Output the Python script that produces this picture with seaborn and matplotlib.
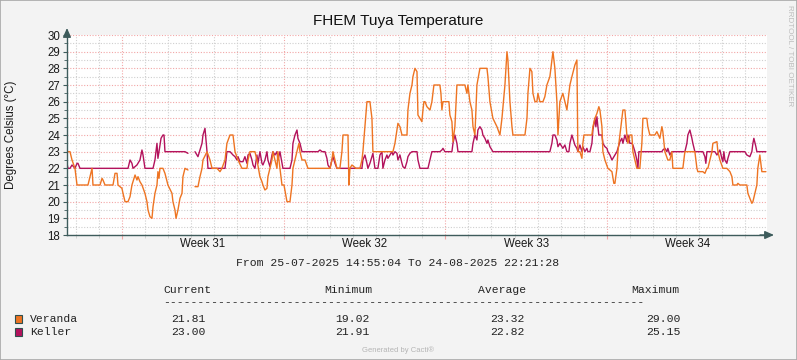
import numpy as np
import pandas as pd
import matplotlib
matplotlib.use("Agg")
import matplotlib.pyplot as plt
import matplotlib.dates as mdates
import seaborn as sns
from matplotlib.patches import Rectangle
from matplotlib import transforms

# ---------------- data ----------------
START = "2025-07-25 14:55:04"
END = "2025-08-24 22:21:28"
TITLE = "FHEM Tuya Temperature"
Y_LABEL = "Degrees Celsius (°C)"
series_names = ["Veranda", "Keller"]
series_colors = {"Veranda": "#EE7422", "Keller": "#B3125C"}

veranda_hours = [0, 3.1, 5.2, 8.3, 10.4, 21.8, 23.9, 26.0, 27.0, 34.3, 36.4, 37.4, 39.5, 47.8, 49.9, 52.0, 53.0,
                 57.1, 58.2, 60.3, 63.4, 65.5, 67.5, 70.7, 72.7, 73.8, 75.8, 77.9, 81.0, 83.1, 84.2, 86.2, 88.3,
                 89.4, 91.4, 93.5, 94.5, 95.6, 96.6, 99.7, 101.8, 104.9, 109.1, 110.1, 112.2, 113.3, 115.3, 117.4,
                 119.5, 120.5, 122.6, 125.7, 129.9, 133.0, 136.1, 138.2, 140.3, 141.3, 145.5, 148.6, 150.7, 155.9,
                 159.0, 161.0, 164.2, 166.2, 169.4, 172.5, 174.6, 177.7, 181.8, 187.0, 188.1, 190.1, 195.3, 197.4,
                 200.5, 202.6, 203.6, 205.7, 207.8, 208.8, 210.9, 213.0, 214.0, 216.1, 218.2, 219.2, 221.3, 223.4,
                 225.5, 228.6, 231.7, 233.8, 234.8, 239.0, 241.0, 242.1, 244.2, 247.3, 250.4, 273.3, 275.3, 276.4,
                 278.5, 280.5, 283.6, 285.7, 286.8, 292.0, 293.0, 294.0, 296.1, 298.2, 300.3, 304.4, 306.5, 307.5,
                 309.6, 311.7, 314.8, 316.9, 317.9, 338.7, 340.8, 342.9, 343.9, 346.0, 348.1, 353.3, 354.3, 356.4,
                 358.5, 359.5, 361.6, 363.7, 364.7, 366.8, 368.8, 369.9, 370.9, 372.0, 374.0, 377.2, 379.2, 381.3,
                 387.5, 388.6, 389.6, 390.7, 396.9, 397.9, 400.0, 401.1, 403.1, 405.2, 411.4, 413.5, 415.6, 416.6,
                 418.7, 420.8, 421.9, 423.9, 426.0, 429.1, 436.4, 437.4, 439.5, 442.6, 446.8, 449.9, 452.0, 455.1,
                 457.2, 458.2, 460.3, 462.4, 463.4, 475.9, 478.0, 479.0, 481.1, 483.1, 484.2, 486.3, 488.3, 489.4,
                 491.4, 494.6, 496.6, 498.7, 501.8, 503.9, 505.0, 507.0, 509.1, 510.2, 512.2, 515.3, 517.4, 519.5,
                 522.6, 524.7, 527.8, 529.9, 530.9, 533.0, 535.1, 536.1, 537.2, 545.5, 546.5, 548.6, 550.7, 552.7,
                 553.8, 555.9, 556.9, 559.0, 562.1, 566.3, 568.3, 569.4, 571.5, 572.5, 574.6, 576.6, 577.7, 579.8,
                 581.8, 582.9, 585.0, 587.0, 588.1, 590.2, 592.2, 595.3, 597.4, 598.5, 602.6, 603.6, 605.7, 610.9,
                 613.0, 616.1, 618.2, 619.2, 621.3, 624.4, 626.5, 628.6, 629.6, 640.0, 642.1, 652.5, 654.6, 655.6,
                 660.8, 662.9, 665.0, 666.0, 670.2, 671.2, 675.4, 676.4, 678.5, 681.6, 685.7, 688.9, 691.0, 692.0,
                 696.1, 697.2, 699.2, 706.5, 707.6, 709.6, 711.7, 712.8, 714.8, 716.9, 717.9, 720.0, 722.1, 726.3]
veranda_temp = [23, 23, 22.5, 22, 21, 21, 21.5, 22, 21, 21, 21.4, 21.3, 21, 21, 21.7, 21.7, 21,
                20.8, 20.5, 20, 20, 20.3, 21, 21.6, 21.3, 21.5, 21.2, 21, 20.5, 20, 19.5, 19.1, 19,
                19.7, 20.5, 21, 21.8, 21.4, 22, 22, 21.7, 21, 20.5, 20, 19.5, 19, 19.5, 20.2,
                20.5, 21.5, 22, 21.9, np.nan, 20.9, 20.9, 21.5, 22, 22.5, 23, 22.5, 22, 22,
                21.8, 22, 22.5, 23.5, 24, 24, 23, 22.5, 22, 22, 22.5, 23, 23, 22.5,
                21.5, 21.2, 21, 20.7, 20.8, 21.5, 22, 22.5, 23, 22.5, 22, 23, 22, 21,
                21, 20, 20, 21, 22, 23, 23.5, 23, 22.5, 22.5, 22, 22, 22.5, 23,
                22.5, 22, 22, 23, 24, 24, 21, 22, 22.2, 22.1, 22, 22, 22.5, 23,
                24.5, 26, 26, 25, 23, 23, 23.5, 24.3, 24.7, 24.5, 24, 24, 25.5, 26.5,
                27, 27.5, 28, 27.8, 25.2, 25, 24.8, 25.5, 26, 26, 25.7, 25.5, 26, 27,
                27, 26.5, 25.5, 26, 26, 25.2, 24.8, 23.6, 24.5, 27, 27, 27, 26.5, 27,
                26, 25.5, 24.5, 24, 27, 28, 28, 27.5, 26, 25, 24.5, 24, 25, 27,
                29, 28.5, 26, 24.5, 24, 24, 25, 26.5, 28, 27.8, 26.5, 26, 26, 26.5,
                26, 26, 26.3, 27, 27.5, 28.5, 29, 28, 26, 24, 26, 26.5, 26, 25.5,
                27, 27.5, 28.2, 28.5, 23, 23, 22.6, 23.5, 24, 24, 24.5, 25, 25.3, 25.7,
                25.5, 24.5, 23, 22.5, 22, 21.8, 21.1, 21.1, 22, 23, 24, 25, 25.5, 25.5,
                24, 23.5, 24, 24, 23, 22.5, 22, 22, 23.5, 25, 25, 24.5, 24, 24,
                24.2, 23.8, 24.5, 24.2, 23, 22.5, 22.5, 23, 22, 22, 23, 23, 22, 21.8,
                21.8, 21.7, 22, 22, 23, 23.5, 23.6, 23, 22.5, 22, 22, 21.8, 21.5, 21,
                21, 21.1, 21, 21, 20.5, 20.2, 19.9, 20, 20.5, 21, 22, 22.8, 21.8, 21.8]

keller_hours = [0, 1.0, 3.1, 5.2, 8.3, 10.4, 11.4, 13.5, 63.4, 65.5, 67.5, 68.6, 72.7, 75.8, 77.9, 79.0, 81.0,
                89.4, 91.4, 93.5, 94.5, 95.6, 97.7, 99.7, 100.8, 101.8, 120.5, 122.6, 125.7, 129.9, 133.0, 136.1,
                138.2, 140.3, 141.3, 143.4, 145.5, 146.5, 164.2, 166.2, 169.4, 172.5, 174.6, 176.6, 177.7, 179.7,
                182.9, 184.9, 187.0, 188.1, 190.1, 192.2, 193.3, 195.3, 197.4, 198.4, 200.5, 202.6, 203.6, 205.7,
                207.8, 208.8, 210.9, 213.0, 214.0, 216.1, 218.2, 219.2, 221.3, 223.4, 224.4, 231.7, 233.8, 234.8,
                236.9, 239.0, 240.0, 242.1, 244.2, 260.8, 262.9, 265.0, 268.1, 270.1, 271.2, 273.3, 275.3, 276.4,
                278.5, 280.5, 306.5, 307.5, 309.6, 311.7, 312.7, 314.8, 317.9, 320.0, 323.1, 325.2, 327.3, 328.3,
                330.4, 332.5, 333.5, 335.6, 337.7, 338.7, 340.8, 342.9, 343.9, 346.0, 348.1, 349.1, 351.2, 353.3,
                354.3, 356.4, 358.5, 363.7, 364.7, 366.8, 375.1, 377.2, 379.2, 387.5, 389.6, 390.7, 392.7, 400.0,
                401.1, 403.1, 405.2, 406.3, 420.8, 421.9, 423.9, 426.0, 427.0, 429.1, 431.2, 432.2, 434.3, 436.4,
                437.4, 439.5, 441.6, 442.6, 501.8, 503.9, 505.0, 507.0, 509.1, 510.2, 512.2, 515.3, 517.4, 519.5,
                521.6, 522.6, 524.7, 525.7, 527.8, 529.9, 530.9, 533.0, 535.1, 536.1, 538.2, 540.3, 541.3, 543.4,
                545.5, 546.5, 548.6, 549.6, 550.7, 551.7, 552.7, 555.9, 556.9, 559.0, 561.1, 562.1, 564.2, 566.3,
                567.3, 569.4, 571.5, 572.5, 574.6, 576.6, 577.7, 579.8, 581.8, 582.9, 585.0, 587.0, 588.1, 590.2,
                592.2, 593.3, 594.3, 618.2, 619.2, 621.3, 623.4, 624.4, 626.5, 628.6, 642.1, 644.2, 645.2, 647.3,
                649.4, 650.4, 652.5, 660.8, 662.9, 663.9, 665.0, 673.3, 675.4, 678.5, 680.5, 681.6, 682.6, 683.7,
                685.7, 686.8, 688.9, 704.4, 706.5, 709.6, 711.7, 712.8, 713.8, 715.9, 716.9, 726.3]
keller_temp = [22.3, 22, 22, 22.2, 22, 22.3, 22.3, 22, 22, 22.5, 22.3, 22, 22.2, 22.5, 23.1, 22.8, 22,
               22, 22.5, 23.5, 22.6, 23, 23.8, 24, 24, 23, 23, 23, 22.9, np.nan, 23, 22.7,
               23.1, 23.5, 24, 24.4, 23, 22, 22, 23, 23, 22.8, 22.7, 22.5, 22.7, 22.4,
               22.4, 22.7, 22.3, 22.8, 22.9, 22.5, 22.2, 22, 22.8, 22.3, 23, 22.3, 22.2, 22.5,
               23, 22.5, 22.1, 22.8, 23, 22.8, 23, 22.5, 23, 22.3, 22, 22, 22.5, 23.5,
               24, 24.3, 23.8, 23.5, 23, 23, 23.1, 23, 23, 22.6, 22.2, 22, 22.5, 22.7,
               22.3, 22, 22, 22.5, 22.8, 22.3, 22, 22.3, 22.9, 22, 22, 22.8, 23, 22,
               22.5, 22.8, 22.6, 22.8, 23, 22.8, 23, 22.9, 22.5, 22.8, 22.3, 22.1, 22, 22.4,
               22.7, 22.9, 23, 23, 22.5, 22, 22, 22.5, 23, 23, 23.1, 23.2, 23, 23,
               23.5, 24, 23.5, 23, 23, 23.5, 24, 23.7, 24.3, 24.5, 24.3, 24, 23.8, 23.5,
               23.7, 23.3, 23.1, 23, 23, 23.5, 24, 24, 23.7, 23.3, 23.5, 23.2, 23.4, 23,
               23, 23.5, 24, 23.8, 23.4, 23.2, 23, 23.4, 23, 23.3, 23, 23.2, 23, 23,
               23.5, 24.3, 25, 24.5, 25.1, 24.5, 24, 24, 23.5, 23.3, 23.2, 23, 22.8, 22.5,
               22.6, 22.8, 23, 23.2, 23.6, 23.8, 23.5, 24, 23.6, 24, 23.5, 23.5, 23.4, 23,
               22.5, 22, 23, 23, 23.1, 23.2, 23, 23.2, 22.8, 23, 23, 23.5, 24, 24.3,
               23.8, 23.5, 23, 23, 22.7, 22.3, 23, 23, 22.8, 23.1, 22.6, 22.4, 23, 22.5,
               22.3, 22.6, 23, 23, 22.8, 22.7, 23, 23.5, 23.8, 23.3, 23, 23]

stat_headers = ["Current", "Minimum", "Average", "Maximum"]
veranda_stats = ["21.81", "19.02", "23.32", "29.00"]
keller_stats = ["23.00", "21.91", "22.82", "25.15"]
period_text = "From 25-07-2025 14:55:04 To 24-08-2025 22:21:28"

# ---------------- frame ----------------
start = pd.Timestamp(START)
end = pd.Timestamp(END)


def build(name, hours, temps):
    d = pd.DataFrame({"hours": hours, "temp": temps})
    d["seg"] = d["temp"].isna().cumsum()
    d = d.dropna()
    d["time"] = start + pd.to_timedelta(d["hours"], unit="h")
    d["series"] = name
    return d


df = pd.concat([build("Keller", keller_hours, keller_temp),
                build("Veranda", veranda_hours, veranda_temp)], ignore_index=True)
df["unit"] = df["series"] + df["seg"].astype(str)

# ---------------- style ----------------
sns.set_theme(style="white")
plt.rcParams["font.family"] = ["Liberation Sans", "DejaVu Sans"]
W, H = 797, 360
BG = "#F3F3F3"
SPINE = "#3E5C5C"
MAJOR_GRID = "#F2A6A6"
MINOR_GRID = "#CFCFCF"

fig = plt.figure(figsize=(W / 100, H / 100), dpi=100, facecolor=BG)
ax = fig.add_axes([67 / W, 1 - 235 / H, 700 / W, 200 / H])
ax.set_facecolor("white")

sns.lineplot(data=df, x="time", y="temp", hue="series", units="unit", estimator=None,
             hue_order=["Keller", "Veranda"], palette=series_colors, linewidth=1.0,
             sort=False, legend=False, ax=ax)

ax.set_xlim(start, end)
ax.set_ylim(18, 30)
ax.set_xlabel("")
ax.set_ylabel("")

ax.yaxis.set_major_locator(matplotlib.ticker.MultipleLocator(1))
ax.yaxis.set_minor_locator(matplotlib.ticker.MultipleLocator(0.5))
ax.yaxis.set_major_formatter(matplotlib.ticker.FormatStrFormatter("%d"))
ax.xaxis.set_major_locator(mdates.WeekdayLocator(byweekday=mdates.MO))
ax.xaxis.set_minor_locator(mdates.DayLocator())
ax.xaxis.set_major_formatter(matplotlib.ticker.NullFormatter())

ax.grid(which="major", color=MAJOR_GRID, linestyle=(0, (1, 1.5)), linewidth=0.8)
ax.grid(which="minor", color=MINOR_GRID, linestyle=(0, (1, 1.5)), linewidth=0.8)
ax.set_axisbelow(True)

for s in ["top", "right"]:
    ax.spines[s].set_visible(False)
for s in ["left", "bottom"]:
    ax.spines[s].set_color(SPINE)
    ax.spines[s].set_linewidth(1.0)

ax.tick_params(axis="y", which="major", length=3, width=0.8, color=SPINE, pad=2,
               labelsize=8.3, labelcolor="#1A1A1A", left=True)
ax.tick_params(axis="y", which="minor", length=2, width=0.6, color=SPINE, left=True)
ax.tick_params(axis="x", which="major", length=3, width=0.8, color=MAJOR_GRID, bottom=True)
ax.tick_params(axis="x", which="minor", length=2, width=0.6, color=MINOR_GRID, bottom=True)

# axis arrows
ax.annotate("", xy=(1 + 7 / 700, 0), xytext=(0.99, 0), xycoords="axes fraction",
            arrowprops=dict(arrowstyle="-|>,head_length=0.45,head_width=0.2", color=SPINE,
                            lw=1, shrinkA=0, shrinkB=0), annotation_clip=False)
ax.annotate("", xy=(0, 1 + 7 / 200), xytext=(0, 0.99), xycoords="axes fraction",
            arrowprops=dict(arrowstyle="-|>,head_length=0.45,head_width=0.2", color=SPINE,
                            lw=1, shrinkA=0, shrinkB=0), annotation_clip=False)

# week labels, centred in each week
blend = transforms.blended_transform_factory(ax.transData, fig.transFigure)
for monday in pd.date_range(start.normalize() - pd.Timedelta(days=7), end, freq="W-MON"):
    centre = monday + pd.Timedelta(hours=84)
    if start <= centre <= end:
        ax.text(mdates.date2num(centre), 1 - 244 / H, f"Week {centre.isocalendar().week}",
                transform=blend, ha="center", va="center", fontsize=8.3, color="#1A1A1A")

# texts
fig.text(398 / W, 1 - 21 / H, TITLE, ha="center", va="center", fontsize=11, color="#111111")
fig.text(11 / W, 1 - 135 / H, Y_LABEL, rotation=90, ha="center", va="center", fontsize=8.3,
         color="#1A1A1A")
fig.text(789 / W, 1 - 5 / H, "RRDTOOL / TOBI OETIKER", rotation=270, ha="center", va="top",
         fontsize=5.8, color="#BDBDBD")
fig.text(398 / W, 1 - 350 / H, "Generated by Cacti®", ha="center", va="center", fontsize=5.5,
         color="#B5B5B5")

mono = dict(family=["Liberation Mono", "DejaVu Sans Mono"], fontsize=8.2, color="#222222")
fig.text(398 / W, 1 - 263 / H, period_text, ha="center", va="center", **mono)
header_left = [163, 324, 478, 631]
value_right = [206, 370, 525, 681]
for xh, h in zip(header_left, stat_headers):
    fig.text(xh / W, 1 - 290 / H, h, ha="left", va="center", **mono)
fig.text(163 / W, 1 - 302 / H, "-" * 70, ha="left", va="center", **mono)
rows = [("Veranda", veranda_stats, 319), ("Keller", keller_stats, 332)]
for name, stats, yy in rows:
    fig.patches.append(Rectangle((15 / W, 1 - (yy + 3.5) / H), 7 / W, 7.5 / H, transform=fig.transFigure,
                                 facecolor=series_colors[name], edgecolor="#2F4F4F", linewidth=0.8))
    fig.text(30 / W, 1 - yy / H, name, ha="left", va="center", **mono)
    for xv, v in zip(value_right, stats):
        fig.text(xv / W, 1 - yy / H, v, ha="right", va="center", **mono)

# outer border
fig.patches.append(Rectangle((0, 0), 1, 1, transform=fig.transFigure, fill=False,
                             edgecolor="#A8A8A8", linewidth=1.2))

fig.savefig("out.png", dpi=100, facecolor=BG)
